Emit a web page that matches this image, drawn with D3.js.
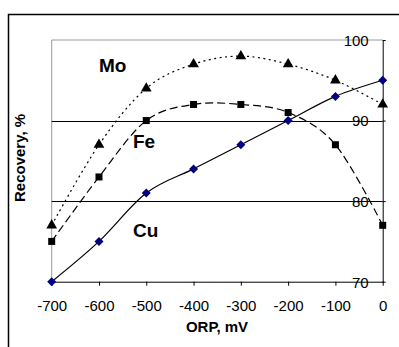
<!DOCTYPE html>
<html><head><meta charset="utf-8">
<script src="https://cdn.jsdelivr.net/npm/d3@7"></script>
<style>body{margin:0;background:#fff}svg{display:block}</style>
</head><body>
<script>
const orp = [-700, -600, -500, -400, -300, -200, -100, 0];
const cu = [70, 75, 81, 84, 87, 90, 93, 95];
const fe = [75, 83, 90, 92, 92, 91, 87, 77];
const mo = [77, 87, 94, 97, 98, 97, 95, 92];
const xTicks = [-700, -600, -500, -400, -300, -200, -100, 0];
const yTicks = [70, 80, 90, 100];

const W = 399, H = 347;
const svg = d3.select("body").append("svg").attr("width", W).attr("height", H);
const font = "Arial, 'Liberation Sans', sans-serif";

svg.append("rect").attr("x", 8.5).attr("y", 14.5).attr("width", 420).attr("height", 400)
  .attr("fill", "none").attr("stroke", "#000").attr("stroke-width", 1.5);

const L = 51.7, R = 382.7, T = 40, B = 281.7;
const x = d3.scaleLinear().domain([-700, 0]).range([L, R]);
const y = d3.scaleLinear().domain([70, 100]).range([B, T]);

// plot frame (gray top/left)
svg.append("line").attr("x1", L).attr("x2", R).attr("y1", y(100)).attr("y2", y(100)).attr("stroke", "#999");
svg.append("line").attr("x1", L).attr("x2", L).attr("y1", T).attr("y2", B).attr("stroke", "#999");
// gridlines
svg.selectAll(".grid").data([80, 90]).join("line")
  .attr("x1", L).attr("x2", R).attr("y1", d => Math.round(y(d)) + 0.5).attr("y2", d => Math.round(y(d)) + 0.5)
  .attr("stroke", "#000");

// x axis
const xa = svg.append("g").attr("transform", `translate(0,${B})`)
  .call(d3.axisBottom(x).tickValues(xTicks).tickSize(4).tickSizeOuter(0).tickPadding(15).tickFormat(d => String(d)));
xa.select(".domain").attr("stroke", "#000");
xa.selectAll("text").attr("font-family", font).attr("font-size", 15).attr("fill", "#000");

// y axis on right, labels inside
const ya = svg.append("g").attr("transform", `translate(${R},0)`)
  .call(d3.axisRight(y).tickValues(yTicks).tickSize(3).tickSizeOuter(0).tickFormat(d => String(d)));
ya.select(".domain").attr("stroke", "#000");
ya.selectAll("text").attr("font-family", font).attr("font-size", 15).attr("fill", "#000")
  .attr("text-anchor", "end").attr("x", -14).attr("dy", "0.36em");

const curve = d3.curveCardinal.tension(0);
function series(vals, dash) {
  const line = d3.line().x((d, i) => x(orp[i])).y(d => y(d)).curve(curve);
  svg.append("path").datum(vals).attr("d", line).attr("fill", "none")
    .attr("stroke", "#000").attr("stroke-width", 1.2).attr("stroke-dasharray", dash);
}
series(mo, "2,3.5");
series(fe, "8,4");
series(cu, null);

// markers
svg.selectAll(".tri").data(mo).join("path")
  .attr("d", d3.symbol(d3.symbolTriangle, 50))
  .attr("transform", (d, i) => `translate(${x(orp[i])},${y(d)})`).attr("fill", "#000");
svg.selectAll(".sq").data(fe).join("rect")
  .attr("x", (d, i) => x(orp[i]) - 3.5).attr("y", d => y(d) - 3.5)
  .attr("width", 7).attr("height", 7).attr("fill", "#000");
svg.selectAll(".dia").data(cu).join("path")
  .attr("d", "M0,-4.5L4.5,0L0,4.5L-4.5,0Z")
  .attr("transform", (d, i) => `translate(${x(orp[i])},${y(d)})`).attr("fill", "#000080");

// series labels
const labels = [["Mo", 99, 72], ["Fe", 133, 148], ["Cu", 133, 237]];
svg.selectAll(".lab").data(labels).join("text")
  .attr("x", d => d[1]).attr("y", d => d[2]).text(d => d[0])
  .attr("font-family", font).attr("font-weight", "bold").attr("font-size", 19).attr("fill", "#000");

// axis titles
svg.append("text").attr("x", 217).attr("y", 332).attr("text-anchor", "middle")
  .attr("font-family", font).attr("font-weight", "bold").attr("font-size", 15).text("ORP, mV");
svg.append("text").attr("transform", "translate(24.5,158) rotate(-90)").attr("text-anchor", "middle")
  .attr("font-family", font).attr("font-weight", "bold").attr("font-size", 15).text("Recovery, %");
</script>
</body></html>
